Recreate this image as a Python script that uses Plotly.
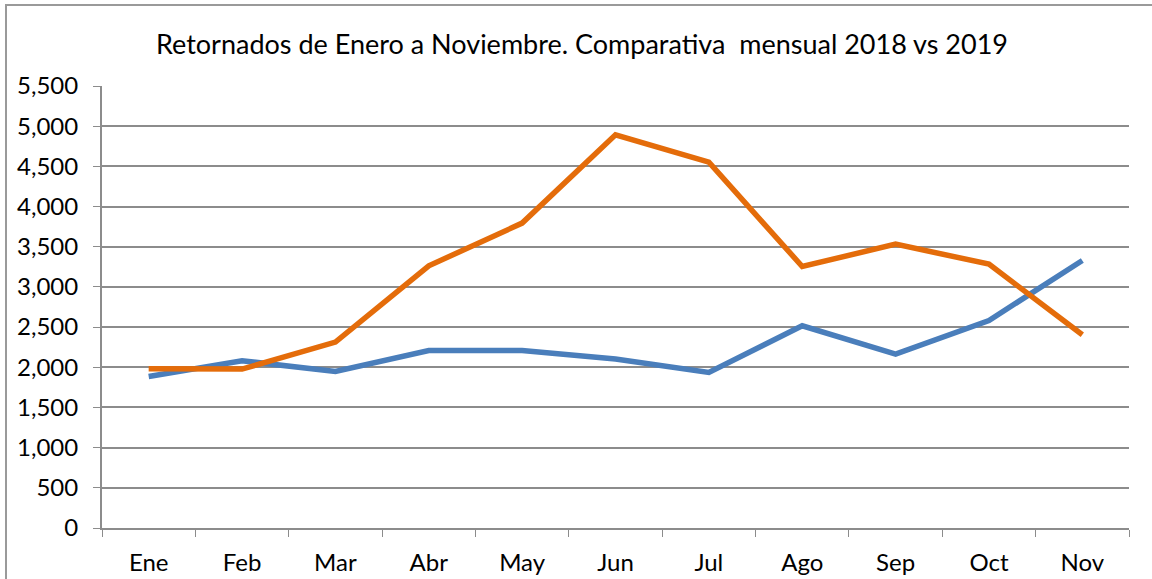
import plotly.graph_objects as go

meses = ["Ene", "Feb", "Mar", "Abr", "May", "Jun", "Jul", "Ago", "Sep", "Oct", "Nov"]
serie_2018 = [1886, 2081, 1948, 2209, 2209, 2102, 1935, 2516, 2164, 2582, 3328]
serie_2019 = [1981, 1978, 2313, 3262, 3794, 4892, 4552, 3254, 3532, 3284, 2404]
y_ticks = [0, 500, 1000, 1500, 2000, 2500, 3000, 3500, 4000, 4500, 5000, 5500]

FONT = "Lato"
GRID = "#8c8c8c"

fig = go.Figure()
fig.add_trace(go.Scatter(x=meses, y=serie_2018, mode="lines", name="2018",
                         line=dict(color="#4A7EBB", width=5.5)))
fig.add_trace(go.Scatter(x=meses, y=serie_2019, mode="lines", name="2019",
                         line=dict(color="#E46C0A", width=5.5)))

fig.update_layout(
    width=1152, height=579,
    margin=dict(l=102, r=23, t=86, b=51),
    paper_bgcolor="white", plot_bgcolor="white",
    showlegend=False,
    font=dict(family=FONT, color="#000000", size=24),
    title=dict(text="Retornados de Enero a Noviembre. Comparativa  mensual 2018 vs 2019",
               x=582 / 1152, xanchor="center", xref="container",
               y=1 - 45 / 579, yanchor="middle", yref="container",
               automargin=False,
               font=dict(family=FONT, size=27, color="#000000")),
    xaxis=dict(type="category", tickson="boundaries", ticks="outside", ticklen=7,
               tickcolor=GRID, showline=True, linecolor=GRID, linewidth=2,
               showgrid=False, ticklabelstandoff=12, range=[-0.5, 10.5],
               automargin=False, tickfont=dict(size=24)),
    yaxis=dict(range=[0, 5500], tickvals=y_ticks, tickformat=",d",
               ticks="outside", ticklen=7, tickcolor=GRID,
               showline=True, linecolor=GRID, linewidth=2,
               showgrid=True, gridcolor=GRID, gridwidth=2, zeroline=False,
               automargin=False, ticklabelstandoff=10, tickfont=dict(size=24)),
    shapes=[dict(type="rect", xref="paper", yref="paper",
                 x0=(6 - 102) / 1027, x1=1.2, y0=-0.3, y1=(528 - 5) / 442,
                 line=dict(color="#9a9a9a", width=2), fillcolor="rgba(0,0,0,0)",
                 layer="below")],
)

fig.write_html("out.html", config={"displayModeBar": False},
               post_script="document.body.style.margin='0';")
